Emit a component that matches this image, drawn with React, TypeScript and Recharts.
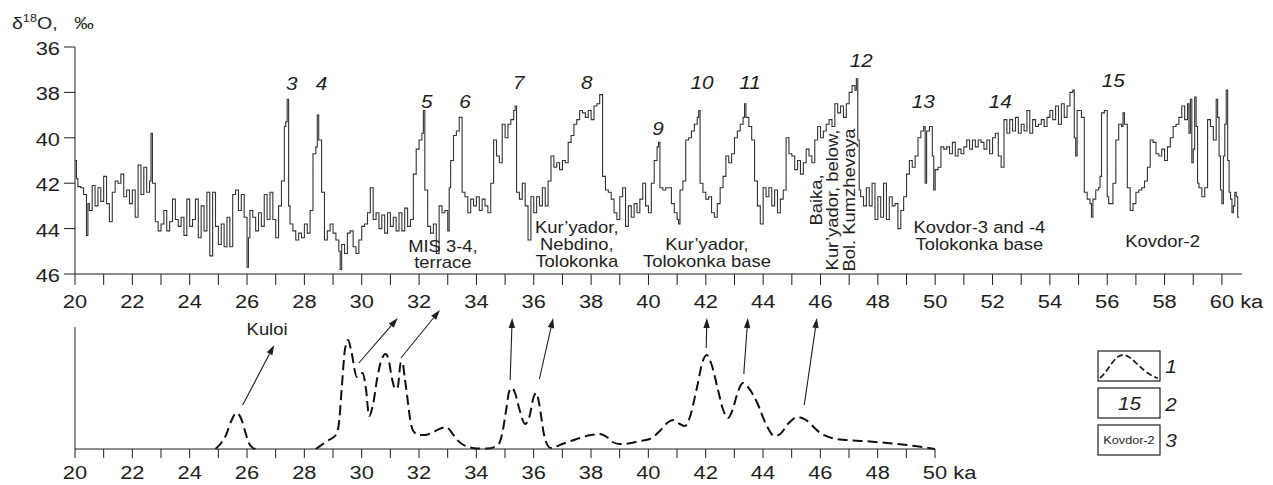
import React from 'react';
import { LineChart, Line, XAxis, YAxis, ReferenceDot, ReferenceLine } from 'recharts';

const FONT = '"Liberation Sans", Arial, Helvetica, sans-serif';
const SX = 1.15;
const INK = '#1e1e1e';

// δ18O record (ka, ‰)
const d18oRecord: [number, number][] = [
  [20.0,41.0],[20.05,41.8],[20.1,42.15],[20.2,42.2],[20.3,42.5],[20.4,44.3],[20.45,42.9],[20.5,43.2],[20.6,42.1],[20.7,43.0],[20.8,42.2],[20.9,42.8],
  [21.0,41.7],[21.1,42.9],[21.2,43.7],[21.3,42.4],[21.4,41.9],[21.5,42.0],[21.6,41.6],[21.7,42.6],[21.8,42.3],[21.9,42.9],
  [22.0,42.3],[22.1,43.5],[22.2,41.2],[22.3,42.5],[22.4,41.3],[22.5,42.4],[22.6,41.9],[22.65,39.8],[22.7,42.0],[22.8,43.7],[22.9,44.1],
  [23.0,43.8],[23.1,43.2],[23.2,44.1],[23.3,43.7],[23.4,42.7],[23.5,43.6],[23.6,43.9],[23.7,43.5],[23.8,44.3],[23.9,42.7],
  [24.0,43.9],[24.1,43.6],[24.2,42.7],[24.3,44.4],[24.4,43.0],[24.5,44.1],[24.6,42.4],[24.7,45.2],[24.8,42.4],[24.9,43.9],
  [25.0,44.7],[25.1,43.8],[25.2,44.8],[25.3,43.5],[25.4,44.8],[25.5,42.5],[25.6,42.3],[25.7,43.2],[25.8,42.5],[25.9,43.5],
  [26.0,45.7],[26.05,44.4],[26.1,43.2],[26.2,43.5],[26.3,44.1],[26.4,43.3],[26.5,43.9],[26.6,42.5],[26.7,43.6],[26.8,42.4],[26.9,43.6],
  [27.0,44.4],[27.1,43.0],[27.2,41.9],[27.3,39.5],[27.35,39.3],[27.4,38.3],[27.45,43.0],[27.5,43.8],[27.6,44.1],[27.7,44.5],[27.8,44.2],[27.9,44.4],
  [28.0,43.8],[28.1,44.2],[28.2,43.2],[28.3,40.7],[28.4,40.4],[28.45,39.0],[28.5,40.1],[28.6,42.4],[28.7,44.5],[28.8,44.1],[28.9,43.8],
  [29.0,44.2],[29.1,44.5],[29.2,45.0],[29.25,45.8],[29.3,44.7],[29.4,45.1],[29.5,44.2],[29.6,44.1],[29.7,44.8],[29.8,45.1],[29.9,44.5],
  [30.0,43.9],[30.1,43.8],[30.2,43.3],[30.3,42.2],[30.4,43.6],[30.5,43.3],[30.6,44.0],[30.7,43.4],[30.8,44.2],[30.9,43.3],
  [31.0,43.9],[31.1,43.5],[31.2,44.1],[31.3,43.3],[31.4,44.1],[31.5,43.1],[31.6,43.9],[31.7,43.6],[31.8,41.6],[31.9,40.5],
  [32.0,40.1],[32.1,39.8],[32.15,38.8],[32.2,42.3],[32.3,43.9],[32.4,44.2],[32.5,43.8],[32.6,45.1],[32.7,43.0],[32.8,43.3],[32.9,43.2],
  [33.0,44.1],[33.05,42.2],[33.1,41.0],[33.2,39.9],[33.3,39.7],[33.4,39.1],[33.5,42.4],[33.6,42.6],[33.7,43.3],[33.8,42.7],[33.9,43.0],
  [34.0,42.6],[34.1,43.2],[34.2,42.7],[34.3,43.0],[34.4,43.3],[34.5,42.0],[34.6,40.1],[34.7,40.8],[34.8,41.1],[34.9,39.4],
  [35.0,40.0],[35.1,39.4],[35.2,39.2],[35.3,38.8],[35.35,38.6],[35.4,42.4],[35.5,42.7],[35.6,42.0],[35.7,43.0],[35.8,44.5],[35.9,42.6],
  [36.0,43.3],[36.1,42.6],[36.2,43.0],[36.3,42.2],[36.4,43.0],[36.5,41.9],[36.6,40.8],[36.7,41.3],[36.8,41.1],[36.9,41.4],
  [37.0,41.0],[37.1,41.1],[37.2,40.2],[37.3,39.9],[37.4,39.4],[37.5,39.2],[37.6,38.8],[37.7,38.9],[37.8,39.1],[37.9,38.8],
  [38.0,39.2],[38.1,38.6],[38.2,38.5],[38.3,38.1],[38.4,41.7],[38.5,42.3],[38.6,42.4],[38.7,42.7],[38.8,43.3],[38.9,43.6],
  [39.0,42.6],[39.1,42.2],[39.2,43.9],[39.3,43.0],[39.4,43.5],[39.5,42.9],[39.6,43.3],[39.7,42.7],[39.8,42.0],[39.9,43.0],
  [40.0,43.3],[40.1,42.0],[40.2,41.0],[40.3,40.4],[40.35,40.2],[40.4,42.2],[40.5,42.3],[40.6,42.2],[40.7,42.2],[40.8,42.9],[40.9,43.3],
  [41.0,43.6],[41.05,43.8],[41.1,42.3],[41.2,41.9],[41.3,40.1],[41.4,40.0],[41.5,39.7],[41.6,39.4],[41.7,39.1],[41.75,38.8],[41.8,42.0],[41.9,42.4],
  [42.0,42.7],[42.1,42.6],[42.2,43.3],[42.3,43.5],[42.4,42.9],[42.5,42.2],[42.6,41.7],[42.7,40.8],[42.8,41.1],[42.9,40.7],
  [43.0,40.0],[43.1,39.7],[43.2,39.4],[43.3,39.1],[43.35,38.5],[43.4,39.1],[43.5,39.5],[43.6,40.1],[43.7,41.9],[43.8,43.0],[43.9,43.8],
  [44.0,42.2],[44.1,42.6],[44.2,42.2],[44.3,43.0],[44.4,42.3],[44.5,43.3],[44.6,42.7],[44.7,42.3],[44.8,40.0],[44.9,40.7],
  [45.0,40.8],[45.1,41.4],[45.2,41.0],[45.3,41.6],[45.4,41.1],[45.5,40.5],[45.6,40.8],[45.7,41.1],[45.8,40.1],[45.9,39.5],
  [46.0,40.0],[46.1,39.7],[46.2,39.4],[46.3,39.2],[46.4,39.5],[46.5,38.5],[46.6,38.9],[46.7,38.6],[46.8,39.1],[46.9,38.5],
  [47.0,38.0],[47.1,37.7],[47.2,37.9],[47.25,37.4],[47.3,40.1],[47.35,42.3],[47.4,42.6],[47.5,43.0],[47.6,42.2],[47.7,43.0],[47.8,42.0],[47.9,43.6],
  [48.0,42.6],[48.1,43.5],[48.2,42.0],[48.3,43.6],[48.4,42.6],[48.5,43.0],[48.6,42.9],[48.7,44.0],[48.8,43.2],[48.9,42.6],
  [49.0,41.6],[49.1,41.0],[49.2,41.3],[49.3,40.8],[49.4,40.0],[49.5,39.7],[49.6,39.5],[49.65,42.0],[49.7,39.7],[49.8,39.5],[49.9,40.8],[49.95,42.3],
  [50.0,41.4],[50.1,41.3],[50.2,40.4],[50.3,40.5],[50.4,40.4],[50.5,40.7],[50.6,40.2],[50.7,40.8],[50.8,40.5],[50.9,40.7],
  [51.0,40.4],[51.1,40.1],[51.2,40.5],[51.3,40.1],[51.4,40.4],[51.5,40.1],[51.6,40.2],[51.7,40.5],[51.8,40.1],[51.9,40.7],
  [52.0,40.0],[52.1,39.8],[52.2,40.8],[52.3,41.3],[52.4,39.2],[52.5,39.8],[52.6,39.2],[52.7,39.7],[52.8,39.1],[52.9,39.8],
  [53.0,39.4],[53.1,39.7],[53.2,38.8],[53.3,39.8],[53.4,39.2],[53.5,39.5],[53.6,39.4],[53.7,39.2],[53.8,39.5],[53.9,39.1],
  [54.0,38.8],[54.1,39.2],[54.2,38.6],[54.3,39.4],[54.4,38.5],[54.5,39.1],[54.6,38.6],[54.7,38.0],[54.8,37.9],[54.85,40.0],[54.9,40.8],[54.95,38.8],
  [55.0,38.8],[55.1,39.1],[55.2,42.4],[55.3,42.7],[55.4,42.9],[55.45,43.5],[55.5,42.7],[55.6,42.3],[55.7,42.2],[55.75,41.7],[55.8,38.9],[55.9,38.8],
  [56.0,42.6],[56.05,42.9],[56.1,42.9],[56.2,42.0],[56.3,40.1],[56.4,39.4],[56.5,39.5],[56.55,38.9],[56.6,39.4],[56.7,42.2],[56.8,43.2],[56.9,42.9],
  [57.0,42.4],[57.1,42.3],[57.2,42.2],[57.3,41.9],[57.4,41.3],[57.5,40.1],[57.6,40.2],[57.7,40.7],[57.8,40.8],[57.9,40.5],
  [58.0,41.0],[58.1,40.4],[58.2,40.0],[58.3,39.5],[58.4,39.4],[58.5,39.1],[58.6,38.6],[58.7,39.2],[58.8,38.5],[58.85,39.8],[58.9,38.3],[58.95,41.1],
  [59.0,40.5],[59.05,38.2],[59.1,39.5],[59.15,42.0],[59.2,42.2],[59.3,42.6],[59.4,42.2],[59.5,39.2],[59.6,39.5],[59.7,40.1],[59.8,38.3],[59.85,39.1],[59.9,40.8],[59.95,42.3],
  [60.0,42.9],[60.05,40.8],[60.1,39.4],[60.15,37.9],[60.2,41.0],[60.25,42.4],[60.3,42.7],[60.35,43.3],[60.4,43.0],[60.45,42.4],[60.5,42.6],[60.55,43.5],[60.6,43.5],
];

const topXTicks = [20,21,22,23,24,25,26,27,28,29,30,31,32,33,34,35,36,37,38,39,40,41,42,43,44,45,46,47,48,49,50,51,52,53,54,55,56,57,58,59,60];
const topXLabelTicks = [20,22,24,26,28,30,32,34,36,38,40,42,44,46,48,50,52,54,56,58,60];
const topYTicks = [36,38,40,42,44,46];
const kaUnit = 'ka';

// age-frequency (density) curve, relative units; null = gap
const densityRecord: [number, number | null][] = [
  [24.9,0],[25.1,6],[25.27,14],[25.45,28],[25.63,36],[25.8,30],[25.92,19],[26.05,7],[26.2,1],[26.3,0],
  [27.3,null],
  [28.4,0],[28.8,8],[29.1,14],[29.2,24],[29.3,59],[29.42,100],[29.53,109],[29.65,96],[29.83,72],[30.03,76],[30.15,60],[30.26,33],
  [30.4,45],[30.55,72],[30.7,90],[30.84,95],[30.95,88],[31.06,70],[31.18,60],[31.26,62],[31.36,86],[31.42,87],[31.5,72],[31.6,50],
  [31.7,28],[31.8,18],[32.0,14],[32.2,14],[32.5,17],[32.8,21],[32.95,22],[33.1,18],[33.3,10],[33.5,5],[33.8,1.5],[34.0,0.5],
  [34.4,0.5],[34.75,4],[34.9,15],[35.04,39],[35.15,58],[35.25,61],[35.35,56],[35.5,40],[35.7,25],[35.85,32],[36.0,52],[36.09,56],
  [36.2,44],[36.35,16],[36.5,3],[36.6,1],[37.0,5],[37.5,10],[38.0,14],[38.3,15],[38.55,12],[38.75,7],[39.0,5],[39.3,5.5],
  [39.7,8],[40.05,10],[40.4,18],[40.7,27],[40.88,29],[41.1,25],[41.28,23],[41.45,32],[41.7,62],[41.9,88],[42.04,94],[42.2,85],
  [42.43,59],[42.6,40],[42.78,31],[42.95,40],[43.1,55],[43.3,66],[43.5,61],[43.8,46],[44.1,25],[44.4,13],[44.6,15],[44.9,26],
  [45.2,32],[45.5,29],[45.8,21],[46.0,16],[46.4,11],[46.9,9],[47.5,8],[48.5,5.5],[49.3,3],[50.0,0],
];
const bottomXTicks = [20,21,22,23,24,25,26,27,28,29,30,31,32,33,34,35,36,37,38,39,40,41,42,43,44,45,46,47,48,49,50];
const bottomXLabelTicks = [20,22,24,26,28,30,32,34,36,38,40,42,44,46,48,50];
const densityAxisTop = 122;

// arrows from density peaks toward the δ18O record
const arrowFromKa = [25.85, 29.9, 31.37, 35.18, 36.2, 42.02, 43.33, 45.44];
const arrowFromVal = [44, 86, 91, 69, 70, 101, 75, 44];
const arrowToKa = [26.95, 31.26, 32.73, 35.25, 36.68, 42.04, 43.47, 45.88];
const arrowToVal = [104, 131, 139, 131, 131, 131, 131, 131];

// interstadial numbers
const peakIds = ['3','4','5','6','7','8','9','10','11','12','13','14','15'];
const peakKa = [27.56, 28.6, 32.27, 33.6, 35.48, 37.85, 40.33, 41.87, 43.54, 47.42, 49.58, 52.27, 56.21];
const peakLevel = [37.89, 37.89, 38.69, 38.69, 37.85, 37.85, 39.88, 37.85, 37.85, 36.88, 38.69, 38.69, 37.76];

// site notes (ka, level of baseline)
const siteText = ['MIS 3-4,', 'terrace', 'Kur’yador,', 'Nebdino,', 'Tolokonka', 'Kur’yador,', 'Tolokonka base', 'Kovdor-3 and -4', 'Tolokonka base', 'Kovdor-2'];
const siteKa = [32.83, 32.83, 37.5, 37.5, 37.5, 42.04, 42.04, 51.54, 51.54, 57.93];
const siteLevel = [45.03, 45.74, 44.19, 44.94, 45.69, 44.94, 45.69, 44.19, 44.94, 44.81];
const verticalText = ['Baika,', 'Kur’yador, below,', 'Bol. Kumzhevaya'];
const verticalKa = [46.06, 46.62, 47.21];
const verticalLevel = 42.74;

const topData = d18oRecord.map(([ka, v]) => ({ ka, v }));
const densData = densityRecord.map(([ka, d]) => ({ ka, d }));

function SText({ x, y, size, italic, anchor = 'middle', rotate = 0, children }: any) {
  const tr = `translate(${x},${y})` + (rotate ? ` rotate(${rotate})` : '') + ` scale(${SX},1)`;
  return (
    <text transform={tr} x={0} y={0} textAnchor={anchor} fontSize={size} fontFamily={FONT}
      fontStyle={italic ? 'italic' : 'normal'} fill={INK}>{children}</text>
  );
}

const makeXTick = (labelTicks: number[], last: number, dyBase: number) => (p: any) => {
  const v = p.payload.value;
  if (!labelTicks.includes(v)) return <g />;
  if (v === last) {
    const half = 0.556 * 19 * SX;
    return <SText x={p.x - half} y={p.y + dyBase} size={19} anchor="start">{`${v} ${kaUnit}`}</SText>;
  }
  return <SText x={p.x} y={p.y + dyBase} size={19}>{String(v)}</SText>;
};
const TopXTick = makeXTick(topXLabelTicks, 60, 23);
const BottomXTick = makeXTick(bottomXLabelTicks, 50, 21);
const TopYTick = (p: any) => <SText x={p.x - 4} y={p.y + 8} size={19} anchor="end">{String(p.payload.value)}</SText>;

const Arrow = (p: any) => {
  const { x1, y1, x2, y2 } = p;
  const dx = x2 - x1, dy = y2 - y1;
  const L = Math.hypot(dx, dy) || 1;
  const ux = dx / L, uy = dy / L;
  const hl = 10, hw = 3.2;
  const bx = x2 - ux * hl, by = y2 - uy * hl;
  return (
    <g>
      <line x1={x1} y1={y1} x2={bx} y2={by} stroke={INK} strokeWidth={1.1} />
      <polygon points={`${x2},${y2} ${bx - uy * hw},${by + ux * hw} ${bx + uy * hw},${by - ux * hw}`} fill={INK} />
    </g>
  );
};

export default function App() {
  return (
    <div style={{ position: 'absolute', left: 0, top: 0, width: 1273, height: 485, background: '#fff', overflow: 'hidden' }}>
      <div style={{ position: 'absolute', left: 0, top: 0 }}>
        <LineChart width={1273} height={330} data={topData} margin={{ top: 47, right: 31, bottom: 0, left: 15 }}>
          <XAxis dataKey="ka" type="number" domain={[20, 60.7]} ticks={topXTicks} interval={0}
            tickSize={11} tickMargin={0} height={56} stroke={INK} tick={TopXTick} allowDataOverflow />
          <YAxis type="number" domain={[36, 46]} reversed ticks={topYTicks} interval={0} width={60}
            tickSize={11} tickMargin={0} stroke={INK} tick={TopYTick} allowDataOverflow />
          <Line dataKey="v" type="stepAfter" dot={false} stroke="#333" strokeWidth={1.1} isAnimationActive={false} />
          {peakIds.map((id, i) => (
            <ReferenceDot key={'p' + i} x={peakKa[i]} y={peakLevel[i]} r={0}
              shape={(s: any) => <SText x={s.cx} y={s.cy} size={18} italic>{id}</SText>} />
          ))}
          {siteText.map((t, i) => (
            <ReferenceDot key={'s' + i} x={siteKa[i]} y={siteLevel[i]} r={0}
              shape={(s: any) => <SText x={s.cx} y={s.cy} size={16}>{t}</SText>} />
          ))}
          {verticalText.map((t, i) => (
            <ReferenceDot key={'v' + i} x={verticalKa[i]} y={verticalLevel} r={0}
              shape={(s: any) => <SText x={s.cx} y={s.cy} size={16} rotate={-90}>{t}</SText>} />
          ))}
        </LineChart>
      </div>
      <div style={{ position: 'absolute', left: 0, top: 280 }}>
        <LineChart width={1273} height={205} data={densData} margin={{ top: 29, right: 338, bottom: 0, left: 75 }}>
          <XAxis dataKey="ka" type="number" domain={[20, 50]} ticks={bottomXTicks} interval={0}
            tickSize={9} tickMargin={0} height={36} stroke={INK} tick={BottomXTick} />
          <YAxis hide type="number" domain={[0, 140]} />
          <ReferenceLine segment={[{ x: 20, y: 0 }, { x: 20, y: densityAxisTop }]} stroke={INK} strokeWidth={1} />
          <Line dataKey="d" type="monotone" stroke="#111" strokeWidth={2} strokeDasharray="10 5" dot={false}
            connectNulls={false} isAnimationActive={false} />
          {arrowFromKa.map((k, i) => (
            <ReferenceLine key={'a' + i} segment={[{ x: k, y: arrowFromVal[i] }, { x: arrowToKa[i], y: arrowToVal[i] }]}
              shape={Arrow} />
          ))}
          <ReferenceDot x={26.7} y={114} r={0} shape={(s: any) => <SText x={s.cx} y={s.cy} size={16}>Kuloi</SText>} />
        </LineChart>
      </div>
      <svg width={1273} height={485} style={{ position: 'absolute', left: 0, top: 0, pointerEvents: 'none' }}>
        <text transform={`translate(12,29) scale(${SX},1)`} fontFamily={FONT} fill={INK} fontSize={17}>
          δ<tspan fontSize={11} dy={-7}>18</tspan><tspan fontSize={17} dy={7}>O,</tspan><tspan fontSize={17} dx={14.5}>‰</tspan>
        </text>
        <rect x={1098} y={351} width={62} height={30} fill="none" stroke={INK} strokeWidth={1.2} />
        <path d="M1100 378 C1108 372,1114 355,1123 355 C1133 355,1142 374,1158 378" fill="none" stroke={INK} strokeWidth={1.8} strokeDasharray="6 3" />
        <rect x={1098} y={388} width={62} height={30} fill="none" stroke={INK} strokeWidth={1.2} />
        <SText x={1129.5} y={410} size={18} italic>15</SText>
        <rect x={1098} y={425} width={62} height={30} fill="none" stroke={INK} strokeWidth={1.2} />
        <SText x={1129} y={444} size={11}>Kovdor-2</SText>
        <SText x={1171} y={373} size={18} italic>1</SText>
        <SText x={1171} y={411} size={18} italic>2</SText>
        <SText x={1171} y={447} size={18} italic>3</SText>
      </svg>
    </div>
  );
}
